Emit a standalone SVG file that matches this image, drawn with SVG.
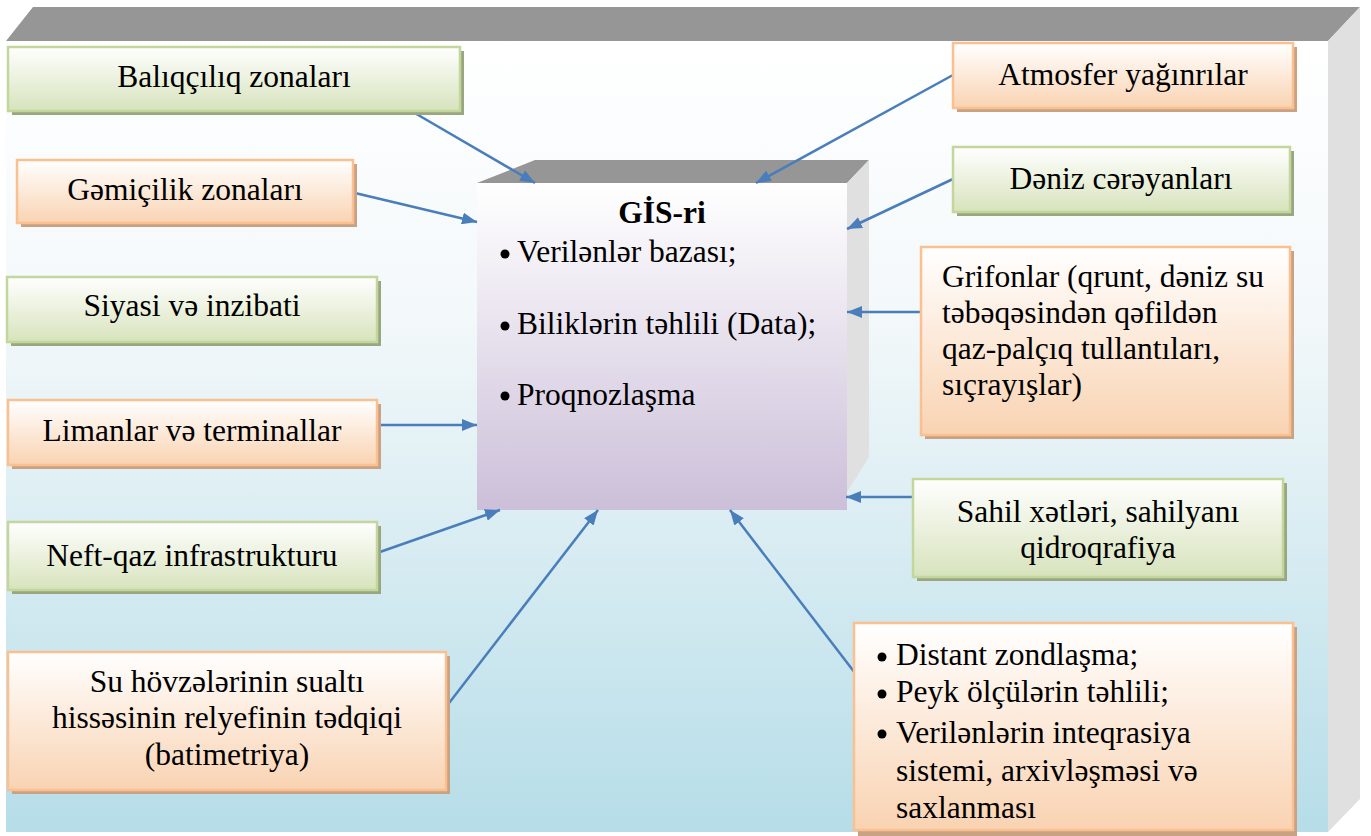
<svg xmlns="http://www.w3.org/2000/svg" width="1371" height="836" viewBox="0 0 1371 836">
  <defs>
    <linearGradient id="bgGrad" x1="0" y1="0" x2="0" y2="1">
      <stop offset="0" stop-color="#ffffff"/>
      <stop offset="0.35" stop-color="#f3f8fa"/>
      <stop offset="1" stop-color="#b6dde8"/>
    </linearGradient>
    <linearGradient id="greenGrad" x1="0" y1="0" x2="0" y2="1">
      <stop offset="0" stop-color="#ffffff"/>
      <stop offset="1" stop-color="#d7e3bc"/>
    </linearGradient>
    <linearGradient id="orangeGrad" x1="0" y1="0" x2="0" y2="1">
      <stop offset="0" stop-color="#ffffff"/>
      <stop offset="1" stop-color="#f9d3b2"/>
    </linearGradient>
    <linearGradient id="purpleGrad" x1="0" y1="0" x2="0" y2="1">
      <stop offset="0" stop-color="#ffffff"/>
      <stop offset="1" stop-color="#ccbfd9"/>
    </linearGradient>
    <marker id="arrowHead" viewBox="0 0 15 12" refX="15" refY="6" markerWidth="15" markerHeight="12" markerUnits="userSpaceOnUse" orient="auto">
      <path d="M0,0 L15,6 L0,12 z" fill="#4a7ebb"/>
    </marker>
  </defs>
  <style>
    .c { text-anchor: middle; }
    .b { font-weight: bold; }
    .green { fill: url(#greenGrad); stroke: #c3d69b; stroke-width: 2.5; }
    .orange { fill: url(#orangeGrad); stroke: #fac090; stroke-width: 2.5; }
    .gshadow { fill: #9aa680; }
    .oshadow { fill: #c9a283; }
    .conn { stroke: #4a7ebb; stroke-width: 2.5; fill: none; marker-end: url(#arrowHead); }
  </style>

  <!-- outer 3D panel -->
  <g id="panel">
    <polygon points="6,41 33,7 1360,7 1328,41" fill="#969696"/>
    <polygon points="1328,41 1360,7 1360,799 1328,832" fill="#e0e0e0"/>
    <rect x="6" y="41" width="1322" height="791" fill="url(#bgGrad)"/>
  </g>

  <g font-family="'Liberation Serif', 'Times New Roman', serif" font-size="31.5" fill="#000">
  <!-- central GIS block -->
  <g id="gis">
    <polygon points="477,183 535,160 869,160 847,183" fill="#969696"/>
    <polygon points="847,183 869,160 869,457 847,492" fill="#e0e0e0"/>
    <rect x="477" y="183" width="370" height="327" fill="url(#purpleGrad)"/>
    <text class="c b" x="662" y="223">GİS-ri</text>
    <circle cx="505" cy="254" r="4.5" fill="#000"/>
    <text x="517" y="262">Verilənlər bazası;</text>
    <circle cx="505" cy="326" r="4.5" fill="#000"/>
    <text x="517" y="334">Biliklərin təhlili (Data);</text>
    <circle cx="505" cy="396" r="4.5" fill="#000"/>
    <text x="517" y="405">Proqnozlaşma</text>
  </g>

  <!-- connectors -->
  <g id="connectors">
    <line class="conn" x1="413" y1="112" x2="535" y2="183"/>
    <line class="conn" x1="953" y1="75" x2="756" y2="183"/>
    <line class="conn" x1="355" y1="193" x2="477" y2="222"/>
    <line class="conn" x1="953" y1="179" x2="847" y2="229"/>
    <line class="conn" x1="921" y1="312" x2="847" y2="312"/>
    <line class="conn" x1="377" y1="425" x2="477" y2="425"/>
    <line class="conn" x1="913" y1="497" x2="846" y2="497"/>
    <line class="conn" x1="377" y1="553" x2="500" y2="510"/>
    <line class="conn" x1="446" y1="707" x2="598" y2="510"/>
    <line class="conn" x1="855" y1="673" x2="730" y2="510"/>
  </g>

  <g id="baliqciliq">
    <rect class="gshadow" x="12" y="51" width="452" height="64"/>
    <rect class="green" x="8" y="47" width="452" height="64"/>
    <text class="c" x="234" y="87">Balıqçılıq zonaları</text>
  </g>

  <g id="atmosfer">
    <rect class="oshadow" x="957" y="47" width="340" height="65"/>
    <rect class="orange" x="953" y="43" width="340" height="65"/>
    <text class="c" x="1123" y="85">Atmosfer yağınrılar</text>
  </g>

  <g id="gemicilik">
    <rect class="oshadow" x="21" y="164" width="336" height="63"/>
    <rect class="orange" x="17" y="160" width="336" height="63"/>
    <text class="c" x="185" y="200">Gəmiçilik zonaları</text>
  </g>

  <g id="deniz">
    <rect class="gshadow" x="957" y="151" width="337" height="65"/>
    <rect class="green" x="953" y="147" width="337" height="65"/>
    <text class="c" x="1121" y="189">Dəniz cərəyanları</text>
  </g>

  <g id="siyasi">
    <rect class="gshadow" x="11" y="281" width="370" height="65"/>
    <rect class="green" x="7" y="277" width="370" height="65"/>
    <text class="c" x="192" y="316">Siyasi və inzibati</text>
  </g>

  <g id="grifonlar">
    <rect class="oshadow" x="925" y="251" width="369" height="188"/>
    <rect class="orange" x="921" y="247" width="369" height="188"/>
    <text x="942" y="287">Grifonlar (qrunt, dəniz su</text>
    <text x="942" y="323">təbəqəsindən qəfildən</text>
    <text x="942" y="359">qaz-palçıq tullantıları,</text>
    <text x="942" y="395">sıçrayışlar)</text>
  </g>

  <g id="limanlar">
    <rect class="oshadow" x="12" y="404" width="369" height="65"/>
    <rect class="orange" x="8" y="400" width="369" height="65"/>
    <text class="c" x="192" y="441">Limanlar və terminallar</text>
  </g>

  <g id="sahil">
    <rect class="gshadow" x="917" y="483" width="370" height="98"/>
    <rect class="green" x="913" y="479" width="370" height="98"/>
    <text class="c" x="1098" y="522">Sahil xətləri, sahilyanı</text>
    <text class="c" x="1098" y="558">qidroqrafiya</text>
  </g>

  <g id="neftqaz">
    <rect class="gshadow" x="12" y="526" width="369" height="68"/>
    <rect class="green" x="8" y="522" width="369" height="68"/>
    <text class="c" x="192" y="566">Neft-qaz infrastrukturu</text>
  </g>

  <g id="batimetriya">
    <rect class="oshadow" x="12" y="656" width="438" height="138"/>
    <rect class="orange" x="8" y="652" width="438" height="138"/>
    <text class="c" x="227" y="692">Su hövzələrinin sualtı</text>
    <text class="c" x="227" y="728">hissəsinin relyefinin tədqiqi</text>
    <text class="c" x="227" y="765">(batimetriya)</text>
  </g>

  <g id="distant">
    <rect class="oshadow" x="858" y="627" width="439" height="209"/>
    <rect class="orange" x="854" y="623" width="439" height="207"/>
    <circle cx="882" cy="657" r="4.5" fill="#000"/>
    <text x="896" y="665">Distant zondlaşma;</text>
    <circle cx="882" cy="694" r="4.5" fill="#000"/>
    <text x="896" y="702">Peyk ölçülərin təhlili;</text>
    <circle cx="882" cy="734" r="4.5" fill="#000"/>
    <text x="896" y="743">Verilənlərin inteqrasiya</text>
    <text x="896" y="781">sistemi, arxivləşməsi və</text>
    <text x="896" y="818">saxlanması</text>
  </g>
  </g>
</svg>
